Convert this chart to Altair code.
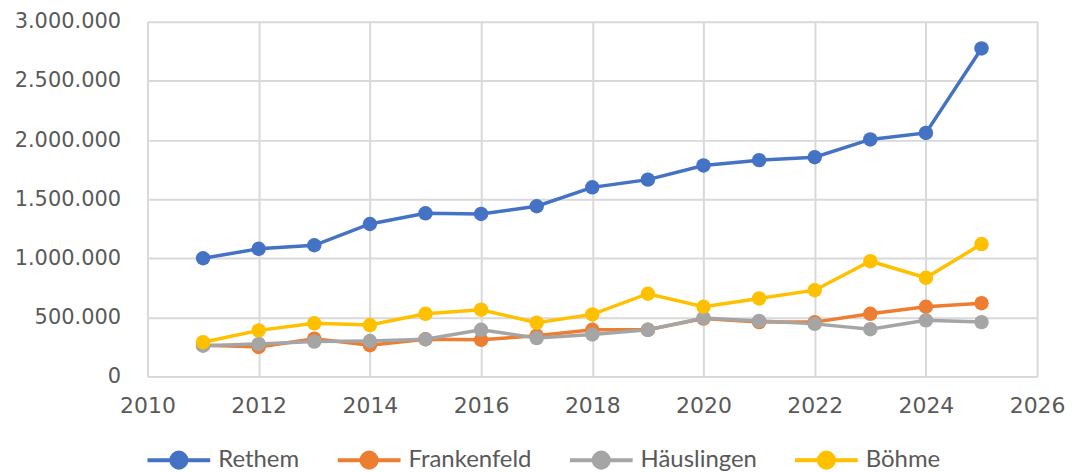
import altair as alt
import pandas as pd

years = list(range(2011, 2026))
series_names = ["Rethem", "Frankenfeld", "Häuslingen", "Böhme"]
rethem = [1000000, 1080000, 1110000, 1290000, 1380000, 1375000, 1440000, 1600000,
          1665000, 1785000, 1830000, 1855000, 2005000, 2060000, 2775000]
frankenfeld = [265000, 250000, 320000, 265000, 315000, 310000, 345000, 395000,
               395000, 490000, 460000, 460000, 530000, 590000, 620000]
haeuslingen = [260000, 275000, 295000, 300000, 315000, 395000, 325000, 355000,
               395000, 495000, 470000, 445000, 400000, 475000, 460000]
boehme = [290000, 390000, 450000, 435000, 530000, 565000, 455000, 525000,
          700000, 590000, 660000, 730000, 975000, 835000, 1120000]
colors = ["#4472C4", "#ED7D31", "#A5A5A5", "#FFC000"]
x_ticks = list(range(2010, 2027, 2))
y_ticks = [0, 500000, 1000000, 1500000, 2000000, 2500000, 3000000]

rows = []
for i, (name, vals) in enumerate(zip(series_names, [rethem, frankenfeld, haeuslingen, boehme])):
    for yr, v in zip(years, vals):
        rows.append({"Jahr": yr, "Wert": v, "Serie": name, "ord": i})
df = pd.DataFrame(rows)

color = alt.Color(
    "Serie:N",
    scale=alt.Scale(domain=series_names, range=colors),
    legend=alt.Legend(
        title=None,
        orient="none",
        legendX=-2,
        legendY=406,
        direction="horizontal",
        symbolType="M-1,0L1,0M0.24,0A0.24,0.24 0 1,1 -0.24,0A0.24,0.24 0 1,1 0.24,0Z",
        symbolSize=3969,
        symbolStrokeWidth=4,
        symbolStrokeColor={"expr": "scale('color', datum.value)"},
        symbolOpacity=1,
        labelFontSize=24,
        labelFont="Lato",
        labelColor="#595959",
        columnPadding=30,
        labelOffset=6,
    ),
)

x = alt.X(
    "Jahr:Q",
    scale=alt.Scale(domain=[2010, 2026], nice=False, zero=False),
    axis=alt.Axis(
        title=None,
        values=x_ticks,
        format="d",
        labelFontSize=22,
        labelFont="DejaVu Sans",
        labelColor="#595959",
        labelPadding=19,
        labelFlush=False,
        ticks=False,
        domain=False,
        gridColor="#D9D9D9",
        gridWidth=2,
    ),
)
y = alt.Y(
    "Wert:Q",
    scale=alt.Scale(domain=[0, 3000000], nice=False),
    axis=alt.Axis(
        title=None,
        values=y_ticks,
        labelExpr="replace(format(datum.value, ','), /,/g, '.')",
        labelFontSize=21,
        labelFont="DejaVu Sans",
        labelColor="#595959",
        labelPadding=27,
        labelFlush=False,
        ticks=False,
        domain=False,
        gridColor="#D9D9D9",
        gridWidth=2,
    ),
)

base = alt.Chart(df)
lines = base.mark_line(strokeWidth=3.5).encode(
    x=x, y=y, color=color, detail="Serie:N", order="Jahr:Q"
)
points = base.mark_circle(size=210, opacity=1).encode(
    x=x, y=y, color=color, order="ord:Q"
)

chart = (
    alt.layer(lines, points)
    .properties(
        width=893,
        height=356,
        autosize=alt.AutoSizeParams(type="none"),
        padding={"left": 140, "top": 13, "right": 30, "bottom": 96},
    )
    .configure_view(stroke="#D9D9D9", strokeWidth=2)
    .configure(background="white")
)

chart.save("out.html", embed_options={"renderer": "svg", "actions": False})
